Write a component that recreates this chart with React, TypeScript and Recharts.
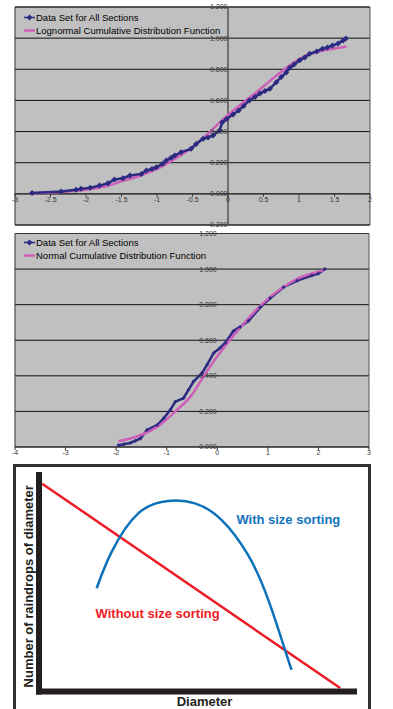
import React from 'react';
import {
  LineChart,
  Line,
  XAxis,
  YAxis,
  CartesianGrid,
  ReferenceLine,
  ReferenceDot,
  Legend,
} from 'recharts';

const FONT = '"Liberation Sans", Arial, Helvetica, sans-serif';
const NAVY = '#2B2B82';
const MAGENTA = '#CC5FB8';
const PLOT_BG = '#C0C0C0';

const DATA_NAME = 'Data Set for All Sections';
const LOGNORMAL_NAME = 'Lognormal Cumulative Distribution Function';
const NORMAL_NAME = 'Normal Cumulative Distribution Function';

// ---------- Chart 1 (lognormal) ----------
const set1X = [-2.76, -2.35, -2.14, -2.07, -1.94, -1.81, -1.69, -1.6, -1.48, -1.38, -1.22, -1.15, -1.07, -1.01, -0.92, -0.87, -0.8, -0.75, -0.66, -0.52, -0.45, -0.35, -0.28, -0.21, -0.12, -0.08, -0.02, 0.07, 0.15, 0.22, 0.3, 0.38, 0.45, 0.52, 0.59, 0.68, 0.75, 0.82, 0.87, 0.93, 1.01, 1.08, 1.15, 1.25, 1.33, 1.4, 1.47, 1.55, 1.62, 1.66];
const set1Y = [0.006, 0.015, 0.026, 0.032, 0.039, 0.053, 0.068, 0.092, 0.1, 0.118, 0.128, 0.15, 0.16, 0.171, 0.193, 0.214, 0.232, 0.246, 0.268, 0.289, 0.32, 0.354, 0.362, 0.375, 0.407, 0.46, 0.48, 0.51, 0.536, 0.565, 0.6, 0.622, 0.645, 0.66, 0.675, 0.717, 0.75, 0.78, 0.81, 0.83, 0.858, 0.875, 0.9, 0.915, 0.932, 0.94, 0.953, 0.965, 0.985, 0.997];
const lognormX = [-2.75, -2.5, -2.25, -2.0, -1.75, -1.5, -1.25, -1.0, -0.75, -0.5, -0.25, -0.09, 0.165, 0.4, 0.63, 0.87, 1.1, 1.34, 1.67];
const lognormY = [0.004, 0.008, 0.015, 0.027, 0.045, 0.08, 0.115, 0.16, 0.225, 0.3, 0.4, 0.47, 0.568, 0.653, 0.74, 0.825, 0.889, 0.92, 0.947];
const chart1XTicks = [-3, -2.5, -2, -1.5, -1, -0.5, 0, 0.5, 1, 1.5, 2];
const chart1XLabels = ['-3', '-2.5', '-2', '-1.5', '-1', '-0.5', '0', '0.5', '1', '1.5', '2'];
const chart1YTicks = [-0.2, 0, 0.2, 0.4, 0.6, 0.8, 1.0, 1.2];
const chart1YLabels = ['-0.200', '0.000', '0.200', '0.400', '0.600', '0.800', '1.000', '1.200'];

// ---------- Chart 2 (normal) ----------
const set2X = [-1.955, -1.85, -1.72, -1.62, -1.52, -1.39, -1.19, -1.06, -0.93, -0.83, -0.67, -0.57, -0.47, -0.3, -0.2, -0.07, 0.06, 0.16, 0.32, 0.45, 0.62, 0.85, 1.05, 1.31, 1.58, 1.87, 2.0, 2.13];
const set2Y = [0.01, 0.015, 0.023, 0.035, 0.048, 0.095, 0.123, 0.161, 0.208, 0.255, 0.274, 0.321, 0.368, 0.416, 0.463, 0.529, 0.558, 0.586, 0.652, 0.675, 0.709, 0.785, 0.837, 0.898, 0.935, 0.964, 0.975, 1.0];
const normalX = [-1.955, -1.52, -1.19, -0.8, -0.53, -0.27, 0.0, 0.26, 0.455, 0.885, 1.25, 1.58, 2.1];
const normalY = [0.032, 0.066, 0.113, 0.208, 0.283, 0.397, 0.51, 0.605, 0.671, 0.803, 0.888, 0.945, 0.992];
const chart2XTicks = [-4, -3, -2, -1, 0, 1, 2, 3];
const chart2YTicks = [0, 0.2, 0.4, 0.6, 0.8, 1.0, 1.2];
const chart2YLabels = ['0.000', '0.200', '0.400', '0.600', '0.800', '1.000', '1.200'];

// ---------- Chart 3 (schematic) ----------
const withoutX = [1, 95.6];
const withoutY = [96, 1.6];
const withX = [18.3, 23.1, 31.5, 41.0, 49.5, 58.0, 66.4, 72.8, 78.6, 80.2];
const withY = [47.7, 64.6, 82.3, 88.0, 86.9, 79.2, 63.0, 42.3, 16.9, 10.0];

const zip = (xs: number[], ys: number[]) => xs.map((x, i) => ({ x, y: ys[i] }));

const dataSet1 = zip(set1X, set1Y);
const lognormFit = zip(lognormX, lognormY);
const dataSet2 = zip(set2X, set2Y);
const normalFit = zip(normalX, normalY);
const withSorting = zip(withX, withY);
const withoutSorting = zip(withoutX, withoutY);

const diamond = (s: number, color: string) => (props: any) => {
  const { cx, cy, index } = props;
  if (cx == null || cy == null) return <g key={`d${index}`} />;
  return (
    <path
      key={`d${index}`}
      d={`M${cx},${cy - s}L${cx + s},${cy}L${cx},${cy + s}L${cx - s},${cy}Z`}
      fill={color}
      stroke="none"
    />
  );
};

const legendContent = (order: string[]) => (props: any) => {
  const items = [...(props.payload || [])].sort(
    (a: any, b: any) => order.indexOf(a.value) - order.indexOf(b.value)
  );
  return (
    <div style={{ fontFamily: FONT, fontSize: 9.5, color: '#000' }}>
      {items.map((it: any) => (
        <div key={it.value} style={{ display: 'flex', alignItems: 'center', height: 13, whiteSpace: 'nowrap' }}>
          <svg width={11} height={7} style={{ marginRight: 1 }}>
            <line x1={0} y1={3.5} x2={11} y2={3.5} stroke={it.color} strokeWidth={it.value === DATA_NAME ? 1.5 : 2.5} />
            {it.value === DATA_NAME && <path d="M5.5,0.5L8.5,3.5L5.5,6.5L2.5,3.5Z" fill={it.color} />}
          </svg>
          <span>{it.value}</span>
        </div>
      ))}
    </div>
  );
};

const tickLabelStyle = { fontSize: 7, fill: '#333', fontFamily: FONT };

function Chart1() {
  return (
    <div style={{ position: 'absolute', left: 0, top: 0 }}>
      <LineChart width={393} height={232} margin={{ top: 7, right: 23, bottom: 7, left: 15 }}>
        <XAxis type="number" dataKey="x" domain={[-3, 2]} ticks={chart1XTicks} hide allowDataOverflow />
        <YAxis type="number" domain={[-0.2, 1.2]} ticks={chart1YTicks} hide allowDataOverflow />
        <CartesianGrid vertical={false} fill={PLOT_BG} fillOpacity={1} stroke="#111" />
        <ReferenceLine x={-3} stroke="#333" />
        <ReferenceLine x={2} stroke="#555" />
        <ReferenceLine y={1.2} stroke="#333" />
        <ReferenceLine y={-0.2} stroke="#333" />
        <ReferenceLine x={0} stroke="#555" strokeWidth={1.5} />
        <ReferenceLine y={0} stroke="#333" />
        {chart1XTicks.map((v) => (
          <ReferenceLine key={`t${v}`} segment={[{ x: v, y: 0 }, { x: v, y: -0.018 }]} stroke="#333" />
        ))}
        {chart1XTicks.map((v, i) => (
          <ReferenceDot key={`xl${v}`} x={v} y={0} r={0.5} fill="none" stroke="none"
            label={{ value: chart1XLabels[i], position: 'bottom', offset: 3, ...tickLabelStyle }} />
        ))}
        {chart1YTicks.map((v, i) => (
          <ReferenceDot key={`yl${v}`} x={0} y={v} r={0.5} fill="none" stroke="none"
            label={{ value: chart1YLabels[i], position: 'left', offset: 0, ...tickLabelStyle }} />
        ))}
        <Line data={lognormFit} dataKey="y" name={LOGNORMAL_NAME} type="monotone" stroke={MAGENTA}
          strokeWidth={2.5} dot={false} isAnimationActive={false} />
        <Line data={dataSet1} dataKey="y" name={DATA_NAME} type="linear" stroke={NAVY}
          strokeWidth={2.5} dot={diamond(3, NAVY)} isAnimationActive={false} />
        <Legend layout="vertical" align="center" verticalAlign="middle"
          wrapperStyle={{ left: 24, top: 10.5, width: 'auto', height: 'auto' }}
          content={legendContent([DATA_NAME, LOGNORMAL_NAME])} />
      </LineChart>
    </div>
  );
}

function Chart2() {
  return (
    <div style={{ position: 'absolute', left: 0, top: 226 }}>
      <LineChart width={393} height={234} margin={{ top: 7.5, right: 24, bottom: 0, left: 15 }}>
        <XAxis type="number" dataKey="x" domain={[-4, 3]} ticks={chart2XTicks} interval={0}
          tick={tickLabelStyle} tickSize={3} tickMargin={0} axisLine={{ stroke: '#333' }}
          tickLine={{ stroke: '#333' }} height={13} allowDataOverflow />
        <YAxis type="number" domain={[0, 1.2]} ticks={chart2YTicks} hide allowDataOverflow />
        <CartesianGrid vertical={false} fill={PLOT_BG} fillOpacity={1} stroke="#111" />
        <ReferenceLine x={-4} stroke="#333" />
        <ReferenceLine x={3} stroke="#555" />
        <ReferenceLine y={1.2} stroke="#333" />
        {chart2YTicks.map((v, i) => (
          <ReferenceDot key={`yl${v}`} x={0} y={v} r={0.5} fill="none" stroke="none"
            label={{ value: chart2YLabels[i], position: 'left', offset: 0, ...tickLabelStyle }} />
        ))}
        <Line data={dataSet2} dataKey="y" name={DATA_NAME} type="linear" stroke={NAVY}
          strokeWidth={2.5} dot={diamond(2, NAVY)} isAnimationActive={false} />
        <Line data={normalFit} dataKey="y" name={NORMAL_NAME} type="monotone" stroke={MAGENTA}
          strokeWidth={2.5} dot={false} isAnimationActive={false} />
        <Legend layout="vertical" align="center" verticalAlign="middle"
          wrapperStyle={{ left: 24, top: 9.5, width: 'auto', height: 'auto' }}
          content={legendContent([DATA_NAME, NORMAL_NAME])} />
      </LineChart>
    </div>
  );
}

function Chart3() {
  const axisStroke = '#231F20';
  return (
    <>
      <div style={{
        position: 'absolute', left: 13, top: 464, width: 352, height: 242,
        border: '3px solid #333', borderBottom: 'none', background: '#fff',
      }} />
      <div style={{ position: 'absolute', left: 0, top: 465 }}>
        <LineChart width={393} height={244} margin={{ top: 10, right: 39, bottom: 0, left: 19 }}>
          <XAxis type="number" dataKey="x" domain={[0, 100]} tick={false} tickLine={false} height={17.5}
            axisLine={{ stroke: axisStroke, strokeWidth: 6, strokeLinecap: 'square' }}
            label={{ value: 'Diameter', position: 'center', dx: 8, dy: 1, fontSize: 13, fontWeight: 'bold', fill: axisStroke, fontFamily: FONT }} />
          <YAxis type="number" domain={[0, 100]} tick={false} tickLine={false} width={20}
            axisLine={{ stroke: axisStroke, strokeWidth: 6, strokeLinecap: 'square' }}
            label={{ value: 'Number of raindrops of diameter', angle: -90, position: 'center', dx: -1, dy: 3, fontSize: 13, fontWeight: 'bold', fill: axisStroke, fontFamily: FONT }} />
          <Line data={withoutSorting} dataKey="y" type="linear" stroke="#ED1C24" strokeWidth={2.5}
            dot={false} isAnimationActive={false} />
          <Line data={withSorting} dataKey="y" type="natural" stroke="#0B72BA" strokeWidth={2.5}
            dot={false} isAnimationActive={false} />
          <ReferenceDot x={62.5} y={79.7} r={0.5} fill="none" stroke="none"
            label={{ value: 'With size sorting', position: 'right', offset: 0, fontSize: 13, fontWeight: 'bold', fill: '#1273BE', fontFamily: FONT }} />
          <ReferenceDot x={17.8} y={36.3} r={0.5} fill="none" stroke="none"
            label={{ value: 'Without size sorting', position: 'right', offset: 0, fontSize: 13, fontWeight: 'bold', fill: '#ED1C24', fontFamily: FONT }} />
        </LineChart>
      </div>
    </>
  );
}

export default function App() {
  return (
    <div>
      <Chart1 />
      <Chart2 />
      <Chart3 />
    </div>
  );
}
